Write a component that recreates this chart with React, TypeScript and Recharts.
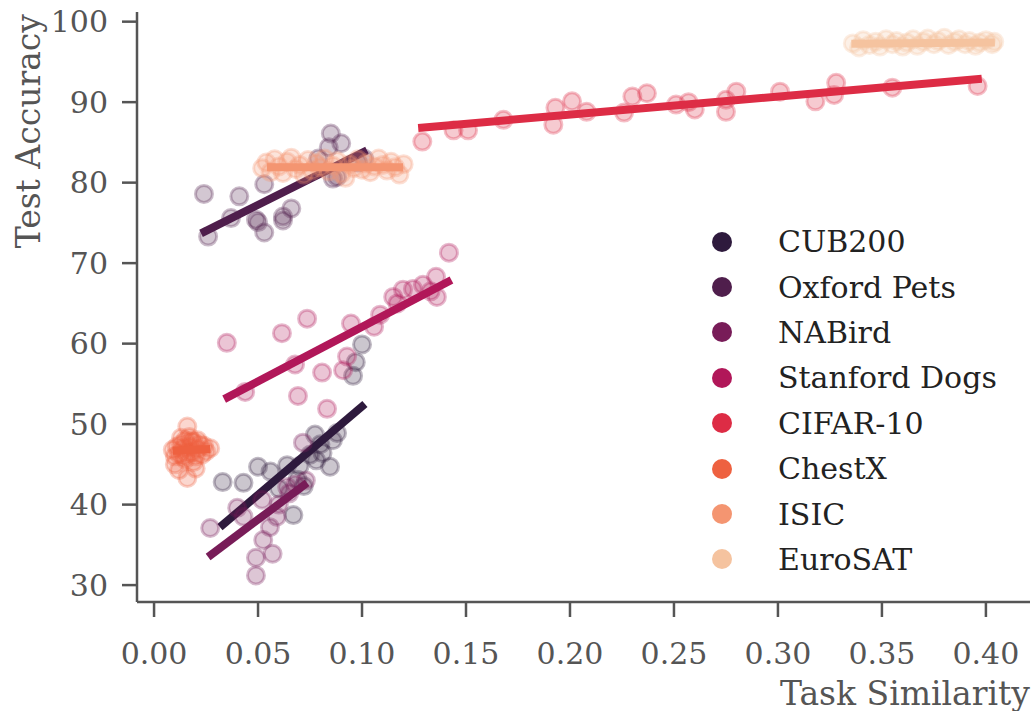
import { Label, Scatter, ScatterChart, XAxis, YAxis } from 'recharts';

type Pt = { x: number; y: number };

const pts = (rows: number[][]): Pt[] => rows.map(([x, y]) => ({ x, y }));

// scatter values
const cub200 = pts([
  [0.033, 42.8], [0.043, 42.7], [0.05, 44.7], [0.056, 44.1], [0.067, 38.7], [0.064, 44.9],
  [0.069, 43.1], [0.075, 46.2], [0.078, 45.5], [0.0774, 48.7], [0.081, 46.4], [0.0846, 44.7],
  [0.088, 48.9], [0.086, 48.0], [0.072, 42.3], [0.06, 42.0], [0.0957, 56.0], [0.097, 57.7],
  [0.1, 59.9], [0.07, 44.8], [0.08, 47.5],
]);
const oxfordPets = pts([
  [0.024, 78.6], [0.041, 78.3], [0.053, 79.8], [0.037, 75.6], [0.049, 75.4], [0.05, 75.1],
  [0.053, 73.8], [0.062, 75.8], [0.062, 75.3], [0.066, 76.8], [0.026, 73.3], [0.085, 86.1],
  [0.09, 84.9], [0.084, 84.4], [0.079, 83.0], [0.086, 80.5], [0.088, 80.7], [0.098, 82.5],
  [0.101, 83.0],
]);
const naBird = pts([
  [0.027, 37.1], [0.04, 39.6], [0.049, 33.4], [0.049, 31.2], [0.057, 33.9], [0.0525, 35.6],
  [0.0557, 37.2], [0.059, 38.5], [0.065, 41.4], [0.0716, 47.7], [0.052, 40.6], [0.064, 42.2],
  [0.043, 38.5], [0.06, 40.0], [0.068, 42.5], [0.073, 43.0],
]);
const stanfordDogs = pts([
  [0.035, 60.1], [0.0615, 61.3], [0.0736, 63.1], [0.0438, 54.0], [0.0678, 57.4], [0.0808, 56.4],
  [0.0692, 53.5], [0.0832, 51.9], [0.0947, 62.5], [0.0928, 58.4], [0.0909, 56.7], [0.1058, 62.1],
  [0.1087, 63.6], [0.115, 65.8], [0.1197, 66.7], [0.1245, 66.8], [0.1293, 67.3], [0.1356, 68.3],
  [0.136, 65.8], [0.1418, 71.3], [0.117, 65.0], [0.133, 66.5],
]);
const cifar10 = pts([
  [0.129, 85.1], [0.144, 86.5], [0.151, 86.5], [0.168, 87.8], [0.193, 89.3], [0.192, 87.2],
  [0.201, 90.1], [0.208, 88.8], [0.226, 88.7], [0.23, 90.7], [0.237, 91.1], [0.251, 89.7],
  [0.257, 90.0], [0.26, 89.1], [0.275, 90.3], [0.275, 88.8], [0.28, 91.3], [0.301, 91.3],
  [0.318, 90.1], [0.327, 90.9], [0.328, 92.4], [0.355, 91.8], [0.396, 92.0],
]);
const chestX = pts([
  [0.016, 49.7], [0.016, 43.3], [0.009, 46.8], [0.027, 47.0], [0.01, 45.0], [0.012, 44.3],
  [0.02, 44.5], [0.014, 46.0], [0.013, 47.5], [0.015, 48.0], [0.017, 47.2], [0.018, 46.5],
  [0.019, 47.8], [0.021, 46.9], [0.022, 47.5], [0.023, 46.2], [0.012, 46.3], [0.011, 47.2],
  [0.014, 47.0], [0.016, 46.4], [0.018, 47.9], [0.02, 46.0], [0.024, 47.3], [0.015, 45.6],
  [0.019, 45.3], [0.013, 48.3], [0.017, 48.4], [0.021, 48.0], [0.025, 46.6], [0.01, 46.0],
]);
const isic = pts([
  [0.052, 81.8], [0.054, 82.5], [0.056, 81.3], [0.058, 82.9], [0.06, 82.0], [0.062, 81.2],
  [0.064, 82.6], [0.066, 83.1], [0.068, 81.7], [0.07, 82.2], [0.072, 81.0], [0.074, 82.8],
  [0.076, 81.5], [0.078, 82.4], [0.08, 81.9], [0.082, 83.0], [0.084, 81.4], [0.086, 82.1],
  [0.088, 82.7], [0.09, 81.1], [0.092, 80.6], [0.094, 82.3], [0.096, 81.8], [0.098, 82.9],
  [0.1, 81.6], [0.102, 82.4], [0.104, 81.3], [0.106, 82.0], [0.108, 83.0], [0.11, 82.2],
  [0.112, 81.5], [0.114, 82.6], [0.116, 81.9], [0.118, 81.0], [0.12, 82.3],
]);
const euroSat = pts([
  [0.336, 97.3], [0.339, 96.8], [0.341, 97.7], [0.344, 97.1], [0.347, 97.5], [0.349, 96.9],
  [0.352, 97.8], [0.355, 97.2], [0.357, 97.6], [0.36, 96.9], [0.362, 97.4], [0.365, 97.8],
  [0.367, 97.0], [0.37, 97.5], [0.372, 97.9], [0.375, 97.2], [0.377, 97.6], [0.38, 98.0],
  [0.382, 97.1], [0.385, 97.5], [0.387, 97.8], [0.39, 97.2], [0.392, 97.6], [0.395, 97.0],
  [0.397, 97.4], [0.4, 97.7], [0.403, 97.2], [0.404, 97.5],
]);

// regression line end points
const cub200Fit = pts([[0.0317, 37.2], [0.1014, 52.5]]);
const oxfordPetsFit = pts([[0.0226, 73.7], [0.1024, 84.0]]);
const naBirdFit = pts([[0.026, 33.5], [0.0736, 42.7]]);
const stanfordDogsFit = pts([[0.0337, 53.1], [0.143, 67.9]]);
const cifar10Fit = pts([[0.127, 86.8], [0.398, 92.9]]);
const chestXFit = pts([[0.009, 46.7], [0.027, 46.9]]);
const isicFit = pts([[0.0543, 81.9], [0.1197, 81.9]]);
const euroSatFit = pts([[0.3353, 97.25], [0.4043, 97.4]]);

const xTicks = [0, 0.05, 0.1, 0.15, 0.2, 0.25, 0.3, 0.35, 0.4];
const yTicks = [30, 40, 50, 60, 70, 80, 90, 100];

const series = [
  { name: 'CUB200', color: '#2e1a3d', data: cub200, fit: cub200Fit },
  { name: 'Oxford Pets', color: '#4f1e4c', data: oxfordPets, fit: oxfordPetsFit },
  { name: 'NABird', color: '#781c58', data: naBird, fit: naBirdFit },
  { name: 'Stanford Dogs', color: '#b11759', data: stanfordDogs, fit: stanfordDogsFit },
  { name: 'CIFAR-10', color: '#dd2c45', data: cifar10, fit: cifar10Fit },
  { name: 'ChestX', color: '#ee6140', data: chestX, fit: chestXFit },
  { name: 'ISIC', color: '#f49571', data: isic, fit: isicFit },
  { name: 'EuroSAT', color: '#f5c39f', data: euroSat, fit: euroSatFit },
];

const FONT = 'DejaVu Serif';
const AXIS = '#555555';

function YLabel() {
  return (
    <text
      x={28}
      y={14}
      transform="rotate(-90, 28, 14)"
      textAnchor="end"
      dominantBaseline="central"
      fontFamily={FONT}
      fontSize={33}
      fill={AXIS}
    >
      Test Accuracy
    </text>
  );
}

function XLabel() {
  return (
    <text x={1030} y={693} textAnchor="end" dominantBaseline="central" fontFamily={FONT} fontSize={33} fill={AXIS}>
      Task Similarity
    </text>
  );
}

// legend drawn as an overlay so it does not take room from the plot
function LegendBox() {
  return (
    <div
      style={{ position: 'absolute', left: 712, top: 219, fontFamily: FONT, fontSize: 30, color: '#222' }}
    >
      {series.map((s) => (
        <div key={s.name} style={{ display: 'flex', alignItems: 'center', height: 45.4 }}>
          <span
            style={{ width: 20, height: 20, borderRadius: 10, background: s.color, marginRight: 46, flex: 'none' }}
          />
          <span>{s.name}</span>
        </div>
      ))}
    </div>
  );
}

const dot = (color: string) => (props: any) => (
  <circle
    cx={props.cx}
    cy={props.cy}
    r={8.5}
    fill={color}
    fillOpacity={0.25}
    stroke={color}
    strokeOpacity={0.3}
    strokeWidth={3}
  />
);

const noDot = () => <g />;

export default function App() {
  return (
    <div style={{ position: 'absolute', left: 0, top: 0, width: 1034, height: 711, background: '#fff' }}>
      <ScatterChart width={1034} height={711} margin={{ top: 12, right: 4, bottom: 0, left: 0 }}>
        <XAxis
          type="number"
          dataKey="x"
          domain={[-0.0082, 0.4212]}
          allowDataOverflow
          ticks={xTicks}
          tickFormatter={(v: number) => v.toFixed(2)}
          height={109}
          tickSize={15}
          tickMargin={26}
          stroke={AXIS}
          strokeWidth={2.5}
          tick={{ fontFamily: FONT, fontSize: 30, fill: AXIS }}
        >
          <Label content={XLabel} />
        </XAxis>
        <YAxis
          type="number"
          dataKey="y"
          domain={[27.9, 101.2]}
          allowDataOverflow
          ticks={yTicks}
          width={137}
          tickSize={15}
          tickMargin={14}
          stroke={AXIS}
          strokeWidth={2.5}
          tick={{ fontFamily: FONT, fontSize: 30, fill: AXIS }}
        >
          <Label content={YLabel} />
        </YAxis>
        {series.flatMap((s) => [
          <Scatter
            key={s.name}
            name={s.name}
            data={s.data}
            shape={dot(s.color)}
            isAnimationActive={false}
          />,
          <Scatter
            key={s.name + '-fit'}
            name={s.name + ' fit'}
            data={s.fit}
            shape={noDot}
            line={{ stroke: s.color, strokeWidth: 8 }}
            lineType="joint"
            legendType="none"
            isAnimationActive={false}
          />,
        ])}
      </ScatterChart>
      <LegendBox />
    </div>
  );
}
